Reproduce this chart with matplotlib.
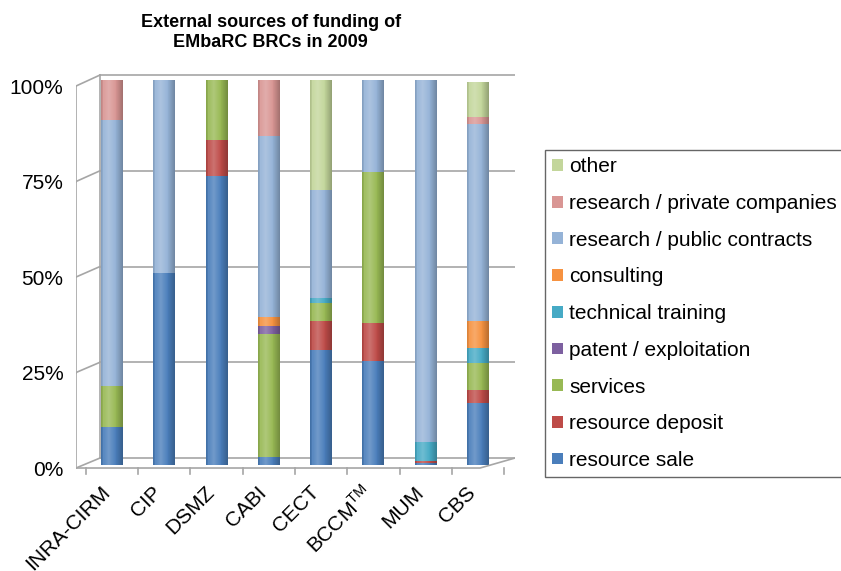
import matplotlib
matplotlib.use("Agg")
import matplotlib.pyplot as plt
import matplotlib.transforms as mtransforms
import numpy as np

plt.rcParams['font.family'] = ['Liberation Sans', 'DejaVu Sans']
plt.rcParams['mathtext.fontset'] = 'custom'
plt.rcParams['mathtext.rm'] = 'Liberation Sans'

collections = ["INRA-CIRM", "CIP", "DSMZ", "CABI", "CECT", "BCCM$^{\\rm TM}$", "MUM", "CBS"]

# shares in % of external funding, bottom to top
resource_sale = [10, 50, 75, 2, 30, 27, 0.5, 16]
resource_deposit = [0, 0, 9.5, 0, 7.5, 10, 0.5, 3.5]
services = [10.5, 0, 15.5, 32, 4.5, 39, 0, 7]
patent = [0, 0, 0, 2, 0, 0, 0, 0]
training = [0, 0, 0, 0, 1.5, 0, 5, 4]
consulting = [0, 0, 0, 2.5, 0, 0, 0, 7]
public_contracts = [69, 50, 0, 47, 28, 24, 94, 51]
private_companies = [10.5, 0, 0, 14.5, 0, 0, 0, 2]
other = [0, 0, 0, 0, 28.5, 0, 0, 9]

series = [
    ("resource sale", resource_sale, "#4a7ebb"),
    ("resource deposit", resource_deposit, "#be4b48"),
    ("services", services, "#98b954"),
    ("patent / exploitation", patent, "#7d60a0"),
    ("technical training", training, "#46aac5"),
    ("consulting", consulting, "#f69240"),
    ("research / public contracts", public_contracts, "#95b3d7"),
    ("research / private companies", private_companies, "#d99694"),
    ("other", other, "#c3d69b"),
]

fig = plt.figure(figsize=(8.41, 5.71), dpi=100)
ax = fig.add_axes([0.0904, 0.1653, 0.522, 0.7147])

x = np.arange(len(collections))
bottom = np.zeros(len(collections))
bars = []
for name, vals, col in series:
    v = np.array(vals) / 100.0
    b = ax.bar(x, v, width=0.42, bottom=bottom, color=col, label=name,
               edgecolor='none', zorder=3)
    bars.extend(b.patches)
    bottom += v

# cylinder shading: dark edges, light band left of centre
t = np.linspace(0, 1, 64)
shade = np.zeros((1, 64, 4))
light = np.clip(1 - np.abs(t - 0.35) / 0.35, 0, 1)
dark = np.clip((np.abs(t - 0.4) - 0.25) / 0.35, 0, 1)
shade[0, :, :3] = np.where(light[:, None] > dark[:, None], 1.0, 0.0)
shade[0, :, 3] = 0.22 * light + 0.25 * dark
for p in bars:
    if p.get_height() <= 0:
        continue
    x0, y0 = p.get_x(), p.get_y()
    im = ax.imshow(shade, extent=(x0, x0 + p.get_width(), y0, y0 + p.get_height()),
                   aspect='auto', zorder=3.5, interpolation='bilinear')
    im.set_clip_path(p)
ax.set_xlim(-0.69, 7.71)
ax.set_ylim(-0.03, 1.03)

# pseudo 3d frame (back wall grid, floor, front axis)
W, H = 439.0, 408.1
def px(xp, yp):
    # pixel position in the figure -> axes fraction
    return (xp - 76) / W, (476.6 - yp) / H

grid_col = "#a6a6a6"
for v in [0, 0.25, 0.5, 0.75, 1.0]:
    yb = 458 - 383 * v
    yf = 468 - 382 * v
    x0, y0 = px(100, yb)
    x1, _ = px(515, yb)
    ax.plot([x0, x1], [y0, y0], color=grid_col, lw=1.2, transform=ax.transAxes, zorder=1)
    xa, ya = px(76, yf)
    ax.plot([xa, x0], [ya, y0], color=grid_col, lw=1.2, transform=ax.transAxes, zorder=1)
    ax.plot([xa - 0.012, xa], [ya, ya], color=grid_col, lw=1.2, transform=ax.transAxes, zorder=1)

xa0, ya0 = px(76, 468)
xa1, ya1 = px(76, 86)
ax.plot([xa0, xa1], [ya0, ya1], color=grid_col, lw=1.2, transform=ax.transAxes, zorder=1)
xb0, yb0 = px(100, 458)
xb1, yb1 = px(100, 75)
ax.plot([xb0, xb1], [yb0, yb1], color=grid_col, lw=1.2, transform=ax.transAxes, zorder=1)
xf1, _ = px(480, 468)
xr, yr = px(515, 458)
ax.plot([xa0, xf1, xr], [ya0, ya0, yr], color=grid_col, lw=1.2, transform=ax.transAxes, zorder=4)
for k in range(len(collections) + 1):
    xt = k - 0.5
    ax.plot([xt, xt], [-0.008, -0.024], color=grid_col, lw=1.2, zorder=4, clip_on=False)

for s in ax.spines.values():
    s.set_visible(False)

ax.set_yticks([-0.008 + 0.992 * v for v in [0, 0.25, 0.5, 0.75, 1.0]])
ax.set_yticklabels(["0%", "25%", "50%", "75%", "100%"], fontsize=15)
ax.tick_params(axis='y', length=0, pad=9)
ax.set_xticks(x)
ax.set_xticklabels(collections, fontsize=15, rotation=45, ha='right', rotation_mode='anchor')
ax.tick_params(axis='x', length=0, pad=0)
shift = mtransforms.ScaledTranslation(-0.12, -0.06, fig.dpi_scale_trans)
for lab in ax.get_xticklabels():
    lab.set_transform(lab.get_transform() + shift)

fig.text(0.322, 0.975, "External sources of funding of\nEMbaRC BRCs in 2009",
         ha='center', va='top', fontsize=13, fontweight='bold', linespacing=1.2)

handles, labels = ax.get_legend_handles_labels()
leg = fig.legend(handles[::-1], labels[::-1], loc='upper left',
                 bbox_to_anchor=(545 / 841, 1 - 150 / 571), borderaxespad=0,
                 fontsize=15, frameon=True, fancybox=False, edgecolor='#404040',
                 handlelength=0.5, handleheight=0.5, handletextpad=0.3,
                 labelspacing=0.85, borderpad=0.35)
leg.get_frame().set_linewidth(1.0)

fig.savefig("out.png", dpi=100)
